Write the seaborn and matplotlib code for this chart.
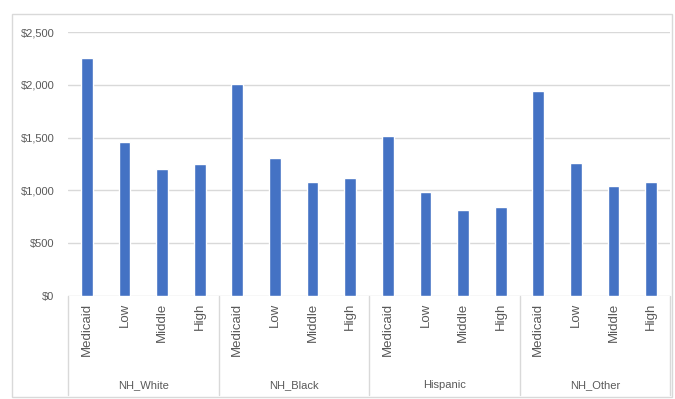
import matplotlib
matplotlib.use("Agg")
import matplotlib.pyplot as plt
import seaborn as sns
import pandas as pd
from matplotlib.patches import Rectangle
from matplotlib.ticker import FuncFormatter

# Average cost by race/ethnicity group and income level
groups = ["NH_White", "NH_Black", "Hispanic", "NH_Other"]
levels = ["Medicaid", "Low", "Middle", "High"]
nh_white = [2250, 1460, 1200, 1250]
nh_black = [2005, 1310, 1080, 1115]
hispanic = [1515, 982, 815, 840]
nh_other = [1940, 1262, 1045, 1080]
y_ticks = [0, 500, 1000, 1500, 2000, 2500]

rows = []
for g, vals in zip(groups, [nh_white, nh_black, hispanic, nh_other]):
    for lv, v in zip(levels, vals):
        rows.append({"group": g, "level": lv, "slot": f"{g}|{lv}", "cost": v})
df = pd.DataFrame(rows)

sns.set_theme(style="white")
plt.rcParams["font.family"] = ["Liberation Sans", "DejaVu Sans"]

W, H = 675, 399
fig = plt.figure(figsize=(W / 100, H / 100), dpi=100)
ax = fig.add_axes([68 / W, 1 - 296 / H, (670 - 68) / W, (296 - 32) / H])

sns.barplot(data=df, x="slot", y="cost", order=list(df["slot"]),
            color="#4472C4", saturation=1, width=0.31, errorbar=None, ax=ax)

text_color = "#595959"
grid_color = "#d9d9d9"

ax.set_xlim(-0.5, len(df) - 0.5)
ax.set_ylim(0, y_ticks[-1])
ax.set_yticks(y_ticks)
ax.yaxis.set_major_formatter(FuncFormatter(lambda v, _: f"${v:,.0f}"))
ax.yaxis.grid(True, color=grid_color, lw=1)
ax.set_axisbelow(True)
for s in ax.spines.values():
    s.set_visible(False)

ax.set_xticks(range(len(df)))
ax.set_xticklabels(list(df["level"]), rotation=90, fontsize=9.5, color=text_color)
ax.tick_params(axis="x", length=0, pad=5)
ax.tick_params(axis="y", length=0, pad=10, labelsize=8, labelcolor=text_color)
ax.set_xlabel("")
ax.set_ylabel("")

# Multi-level category axis: separators and group names
depth = (395 - 296) / (296 - 32)
for i in range(len(groups) + 1):
    ax.plot([i / len(groups)] * 2, [0, -depth], transform=ax.transAxes,
            clip_on=False, color=grid_color, lw=1)
for i, g in enumerate(groups):
    ax.text((i + 0.5) / len(groups), -(385 - 296) / (296 - 32), g,
            transform=ax.transAxes, ha="center", va="center",
            fontsize=8, color=text_color)

# Chart frame
fig.patches.append(Rectangle((12 / W, 1 - 397 / H), (672 - 12) / W, (397 - 14) / H,
                             transform=fig.transFigure, fill=False,
                             ec=grid_color, lw=1))

fig.savefig("out.png", dpi=100)
